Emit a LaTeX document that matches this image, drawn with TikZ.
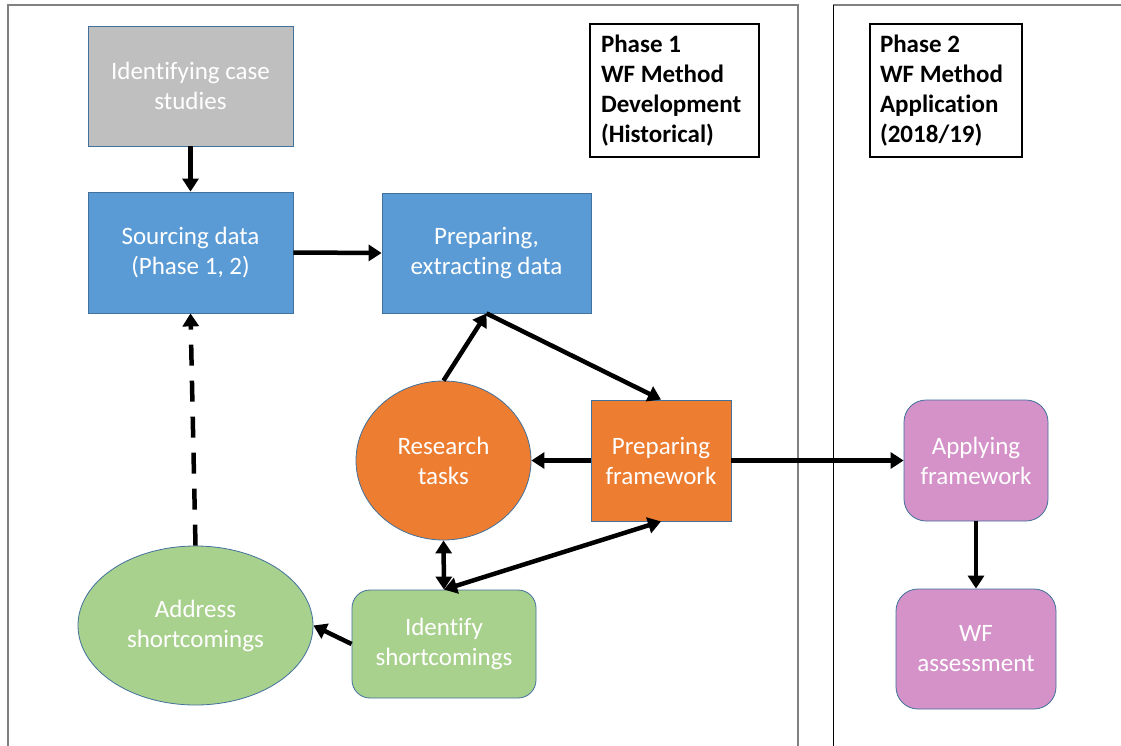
\documentclass[tikz,border=0pt]{standalone}
\usepackage{fontspec}
\setmainfont{Carlito}[Ligatures=CommonOff]
\usetikzlibrary{arrows.meta,shapes.geometric}
\definecolor{cgray}{HTML}{BFBFBF}
\definecolor{cblue}{HTML}{5B9BD5}
\definecolor{corange}{HTML}{ED7D31}
\definecolor{cgreen}{HTML}{A9D18E}
\definecolor{cpink}{HTML}{D492C8}
\definecolor{cedge}{HTML}{41719C}
\definecolor{cframe}{HTML}{808080}
\tikzset{
  box/.style={draw=cedge, line width=0.8pt, inner sep=0pt, align=center, text=white,
    font=\fontsize{25}{30}\selectfont},
  oval/.style={box, ellipse},
  phasebox/.style={draw=black, line width=1.5pt, inner xsep=11pt, inner ysep=0pt, align=flush left,
    font=\bfseries\fontsize{25}{30}\selectfont, text=black},
  conn/.style={line width=4.5pt, -{Triangle[length=13pt,width=16pt]}},
  conn2/.style={line width=4.5pt, {Triangle[length=13pt,width=16pt]}-{Triangle[length=13pt,width=16pt]}},
}
\begin{document}
\begin{tikzpicture}[x=1pt,y=-1pt]
\useasboundingbox (0,0) rectangle (1121,746);
\fill[white] (0,0) rectangle (1121,746);
% frames
\draw[cframe, line width=1.5pt] (8,750) -- (8,5) -- (798,5) -- (798,750);
\draw[cframe, line width=1.5pt] (833,5) -- (1125,5);
\draw[black, line width=1pt] (833,750) -- (833,5);
% phase labels
\node[phasebox, minimum width=169pt, minimum height=133pt, text width=147pt] (p1) at (674.5,90.5)
  {Phase 1\\WF Method\\Development\\(Historical)};
\node[phasebox, minimum width=152pt, minimum height=133pt, text width=132pt, inner xsep=10pt] (p2) at (946,90.5)
  {Phase 2\\WF Method\\Application\\(2018/19)};
% nodes
\node[box, fill=cgray, minimum width=205pt, minimum height=120pt] (ic) at (190.5,86) {Identifying case\\studies};
\node[box, fill=cblue, minimum width=205pt, minimum height=121pt] (sd) at (190.5,252.5) {Sourcing data\\(Phase 1, 2)};
\node[box, fill=cblue, minimum width=209pt, minimum height=120pt] (pe) at (486.5,253) {Preparing,\\extracting data};
\node[oval, fill=corange, minimum width=175pt, minimum height=159pt] (rt) at (443.5,460.5) {Research\\tasks};
\node[box, fill=corange, minimum width=140pt, minimum height=121pt] (pf) at (661,460.5) {Preparing\\framework};
\node[box, fill=cgreen, rounded corners=18pt, minimum width=184pt, minimum height=108pt] (is) at (444,644) {Identify\\shortcomings};
\node[oval, fill=cgreen, minimum width=235pt, minimum height=159pt] (as) at (195.5,625.5) {Address\\shortcomings};
\node[box, fill=cpink, rounded corners=22pt, minimum width=144pt, minimum height=121pt] (af) at (976,460.5) {Applying\\framework};
\node[box, fill=cpink, rounded corners=22pt, minimum width=160pt, minimum height=120pt] (wf) at (976,649) {WF\\assessment};
% connectors
\draw[conn] (ic.south) -- (sd.north);
\draw[conn] (sd.east) -- (pe.west);
\draw[conn] (rt.north) -- (pe.south);
\draw[conn] (pe.south) -- (pf.north);
\draw[conn] (pf.west) -- (rt.east);
\draw[conn] (pf.east) -- (af.west);
\draw[conn2] (rt.south) -- (is.north);
\draw[conn2] (is.north) -- (pf.south);
\draw[conn] (is.west) -- (as.east);
\draw[conn, dash pattern=on 21pt off 15pt] (as.north) -- (sd.south);
\draw[conn] (af.south) -- (wf.north);
\end{tikzpicture}
\end{document}
